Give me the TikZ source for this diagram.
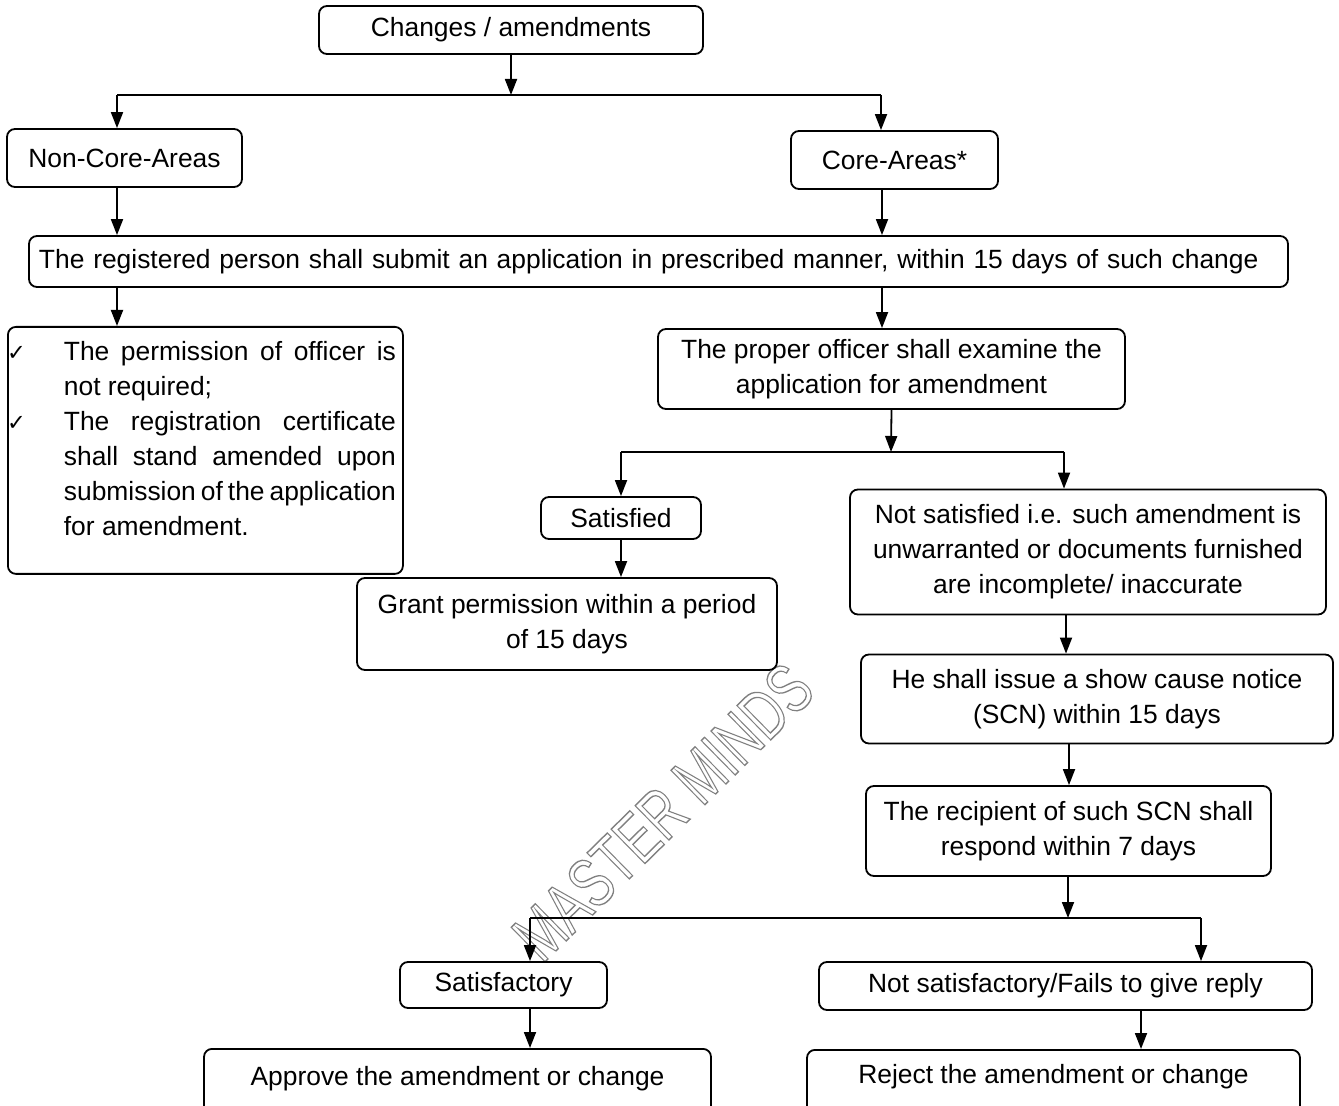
\documentclass[tikz,border=0pt]{standalone}
\usepackage{fontspec}
\setmainfont{Liberation Sans}
\newfontfamily\symfont{DejaVu Sans}
\usetikzlibrary{arrows.meta}

\newlength{\du}
\setlength{\du}{0.5pt}

\tikzset{
  flowbox/.style={draw, rounded corners=4pt, inner sep=0pt, align=center},
  flowarr/.style={-{Triangle[length=8pt,width=6pt]}},
}
\newcommand{\tickmark}{\llap{\scalebox{0.85}{\symfont ✓}\hspace{38\du}}}
\newcommand{\outlinetext}[1]{\special{pdf:literal direct 1 Tr 0.7 w}#1\special{pdf:literal direct 0 Tr}}

\begin{document}
\begin{tikzpicture}
\pgftransformyscale{-1.000000}
\fontsize{13.2}{17.5}\selectfont
\definecolor{dialinecolor}{rgb}{0.000000, 0.000000, 0.000000}
\pgfsetstrokecolor{dialinecolor}
\pgfsetlinewidth{0.9pt}
\useasboundingbox (0\du,0\du) rectangle (1339\du,1106\du);
\clip (0\du,0\du) rectangle (1339\du,1106\du);
\fill[white] (0\du,0\du) rectangle (1339\du,1106\du);
% watermark
\node[rotate=44.5, text=gray] (wmark) at (663\du,812\du)
  {\scalebox{0.72}[1]{\fontsize{35}{35}\selectfont\outlinetext{MASTER MINDS}}};
% boxes
\node[flowbox, minimum width=384\du, minimum height=48\du] (chg) at (511\du,30\du) {Changes / amendments};
\node[flowbox, minimum width=235\du, minimum height=58\du] (noncore) at (124.5\du,158\du) {Non-Core-Areas};
\node[flowbox, minimum width=207\du, minimum height=58\du] (core) at (894.5\du,160\du) {Core-Areas*};
\node[flowbox, text width=1239\du, inner xsep=10\du, minimum height=51\du, align=left] (reg) at (658.5\du,261.5\du)
  {The registered person shall submit an application in prescribed manner, within 15 days of such change};
\node[flowbox, anchor=north west] (perm) at (7\du,326\du)
  {\parbox[c][247\du][t]{395\du}{\vspace*{14\du}\leftskip=56\du\rightskip=7\du\relax
   \noindent\tickmark The permission of officer is\linebreak not required;\par
   \noindent\tickmark The registration certificate\linebreak shall stand amended upon\linebreak
   submission of the application\linebreak for amendment.\par}};
\node[flowbox, minimum width=467\du, minimum height=80\du] (officer) at (891.5\du,369\du)
  {The proper officer shall examine the\\application for amendment};
\node[flowbox, minimum width=160\du, minimum height=42\du] (sat) at (621\du,518\du) {Satisfied};
\node[flowbox, minimum width=420\du, minimum height=92\du] (grant) at (567\du,624\du)
  {Grant permission within a period\\of 15 days};
\node[flowbox, minimum width=476\du, minimum height=125\du] (notsat) at (1088\du,552\du)
  {Not satisfied i.e. such amendment is\\unwarranted or documents furnished\\are incomplete/ inaccurate};
\node[flowbox, minimum width=472\du, minimum height=89\du] (scn) at (1097\du,699\du)
  {He shall issue a show cause notice\\(SCN) within 15 days};
\node[flowbox, minimum width=405\du, minimum height=90\du] (recip) at (1068.5\du,831\du)
  {The recipient of such SCN shall\\respond within 7 days};
\node[flowbox, minimum width=207\du, minimum height=46\du] (satf) at (503.5\du,985\du) {Satisfactory};
\node[flowbox, minimum width=493\du, minimum height=48\du] (notsatf) at (1065.5\du,986\du) {Not satisfactory/Fails to give reply};
\node[flowbox, anchor=north, minimum width=507\du, text height=37\du, text depth=33\du] (approve) at (457.5\du,1048\du)
  {Approve the amendment or change};
\node[flowbox, anchor=north, minimum width=493\du, text height=34\du, text depth=36\du] (reject) at (1053.5\du,1049\du)
  {Reject the amendment or change};
% branch points
\coordinate (splitA) at (511\du,95\du);
\coordinate (splitAl) at (117\du,95\du);
\coordinate (splitAr) at (881\du,95\du);
\coordinate (splitB) at (891\du,452\du);
\coordinate (splitBl) at (621\du,452\du);
\coordinate (splitBr) at (1064\du,452\du);
\coordinate (splitC) at (1068\du,918\du);
\coordinate (splitCl) at (530\du,918\du);
\coordinate (splitCr) at (1201\du,918\du);
% connectors
\draw[flowarr] (chg.south) -- (splitA);
\draw (splitAl) -- (splitAr);
\draw[flowarr] (splitAl) -- (splitAl |- noncore.north);
\draw[flowarr] (splitAr) -- (splitAr |- core.north);
\draw[flowarr] (splitAl |- noncore.south) -- (splitAl |- reg.north);
\draw[flowarr] (882\du,0\du |- core.south) -- (882\du,0\du |- reg.north);
\draw[flowarr] (splitAl |- reg.south) -- (splitAl |- perm.north);
\draw[flowarr] (882\du,0\du |- reg.south) -- (882\du,0\du |- officer.north);
\draw[flowarr] (officer.south) -- (splitB);
\draw (splitBl) -- (splitBr);
\draw[flowarr] (splitBl) -- (sat.north);
\draw[flowarr] (splitBr) -- (splitBr |- notsat.north);
\draw[flowarr] (sat.south) -- (grant.north -| sat.south);
\draw[flowarr] (1066\du,0\du |- notsat.south) -- (1066\du,0\du |- scn.north);
\draw[flowarr] (1069\du,0\du |- scn.south) -- (1069\du,0\du |- recip.north);
\draw[flowarr] (splitC |- recip.south) -- (splitC);
\draw (splitCl) -- (splitCr);
\draw[flowarr] (splitCl) -- (splitCl |- satf.north);
\draw[flowarr] (splitCr) -- (splitCr |- notsatf.north);
\draw[flowarr] (splitCl |- satf.south) -- (splitCl |- approve.north);
\draw[flowarr] (1141\du,0\du |- notsatf.south) -- (1141\du,0\du |- reject.north);
\end{tikzpicture}
\end{document}
